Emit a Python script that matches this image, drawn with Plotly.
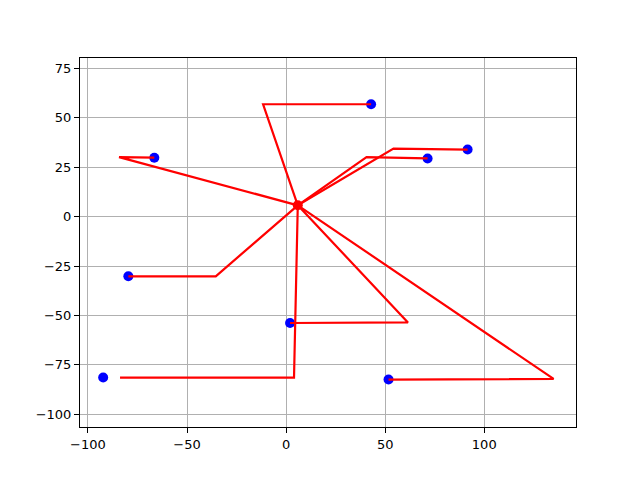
import plotly.graph_objects as go

# Blue points
point_x = [42.9, -66.5, 71.4, 91.6, -79.6, 2.0, -92.3, 51.7]
point_y = [56.8, 29.8, 29.4, 33.9, -30.2, -53.8, -81.4, -82.4]
# Start of each red connector
start_x = [42.9, -66.5, 71.4, 91.6, -79.6, 2.0, -83.8, 51.7]
start_y = [56.8, 29.8, 29.4, 33.9, -30.2, -53.8, -81.4, -82.4]
# Elbow of each red connector
elbow_x = [-11.6, -84.3, 40.6, 54.2, -35.5, 61.5, 4.0, 135.0]
elbow_y = [56.8, 30.1, 30.1, 34.4, -30.2, -53.5, -81.4, -82.1]
# Common hub
center_x = 5.9
center_y = 5.7

fig = go.Figure()

fig.add_trace(go.Scatter(x=point_x, y=point_y, mode="markers",
                         marker=dict(color="blue", size=10, line=dict(width=0)),
                         showlegend=False, hoverinfo="skip"))

for sx, sy, ex, ey in zip(start_x, start_y, elbow_x, elbow_y):
    fig.add_trace(go.Scatter(x=[sx, ex, center_x], y=[sy, ey, center_y], mode="lines",
                             line=dict(color="red", width=2.2),
                             showlegend=False, hoverinfo="skip"))

fig.add_trace(go.Scatter(x=[center_x], y=[center_y], mode="markers",
                         marker=dict(color="red", size=10, line=dict(width=0)),
                         showlegend=False, hoverinfo="skip"))

axis_common = dict(showgrid=True, gridcolor="#b0b0b0", gridwidth=1,
                   zeroline=False, showline=True, linecolor="black", linewidth=1,
                   mirror=True, ticks="outside", ticklen=5, tickwidth=1, tickcolor="black",
                   tickfont=dict(family="DejaVu Sans", size=13, color="black"))

fig.update_layout(
    width=640, height=480,
    margin=dict(l=72, r=72, t=50, b=61),
    paper_bgcolor="white", plot_bgcolor="white",
    xaxis=dict(range=[-104.0, 146.3], tickmode="linear", tick0=0, dtick=50, **axis_common),
    yaxis=dict(range=[-106.4, 80.2], tickmode="linear", tick0=0, dtick=25, **axis_common),
)

fig.write_html("out.html")
